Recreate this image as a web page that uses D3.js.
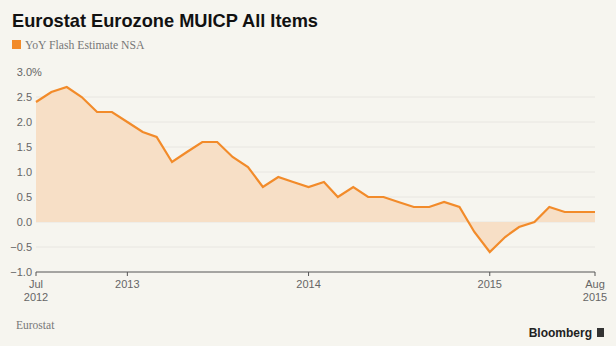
<!DOCTYPE html>
<html>
<head>
<meta charset="utf-8">
<script src="https://cdn.jsdelivr.net/npm/d3@7"></script>
<style>
  html, body { margin: 0; padding: 0; background: #f6f5ef; }
  svg { display: block; }
</style>
</head>
<body>
<svg id="chart" width="616" height="346"></svg>
<script>
// Eurozone MUICP All Items, YoY flash estimate (NSA), monthly Jul 2012 – Aug 2015
const months = [
  "2012-07","2012-08","2012-09","2012-10","2012-11","2012-12",
  "2013-01","2013-02","2013-03","2013-04","2013-05","2013-06",
  "2013-07","2013-08","2013-09","2013-10","2013-11","2013-12",
  "2014-01","2014-02","2014-03","2014-04","2014-05","2014-06",
  "2014-07","2014-08","2014-09","2014-10","2014-11","2014-12",
  "2015-01","2015-02","2015-03","2015-04","2015-05","2015-06",
  "2015-07","2015-08"
];
const yoy = [
  2.4, 2.6, 2.7, 2.5, 2.2, 2.2,
  2.0, 1.8, 1.7, 1.2, 1.4, 1.6,
  1.6, 1.3, 1.1, 0.7, 0.9, 0.8,
  0.7, 0.8, 0.5, 0.7, 0.5, 0.5,
  0.4, 0.3, 0.3, 0.4, 0.3, -0.2,
  -0.6, -0.3, -0.1, 0.0, 0.3, 0.2,
  0.2, 0.2
];
const yTicks = [3.0, 2.5, 2.0, 1.5, 1.0, 0.5, 0.0, -0.5, -1.0];
const xTicks = [
  { date: "2012-07", lines: ["Jul", "2012"] },
  { date: "2013-01", lines: ["2013"] },
  { date: "2014-01", lines: ["2014"] },
  { date: "2015-01", lines: ["2015"] },
  { date: "2015-08", lines: ["Aug", "2015"] }
];

const parse = d3.timeParse("%Y-%m");
const data = months.map((m, i) => ({ date: parse(m), value: yoy[i] }));

const svg = d3.select("#chart");
const orange = "#f28b2a";
const fillCol = "#f7dfc6";
const sans = "'Liberation Sans', Arial, sans-serif";
const serif = "'Liberation Serif', 'DejaVu Serif', serif";

const x = d3.scaleTime()
  .domain([parse("2012-07"), parse("2015-08")])
  .range([36, 595]);
const y = d3.scaleLinear().domain([-1, 3]).range([272, 72]);

// Title and legend
svg.append("text")
  .attr("x", 12).attr("y", 27)
  .attr("font-family", sans).attr("font-weight", "bold")
  .attr("font-size", 18.5).attr("fill", "#111")
  .attr("textLength", 306).attr("lengthAdjust", "spacingAndGlyphs")
  .text("Eurostat Eurozone MUICP All Items");

svg.append("rect")
  .attr("x", 12).attr("y", 40).attr("width", 9).attr("height", 9)
  .attr("fill", orange);
svg.append("text")
  .attr("x", 25).attr("y", 48.5)
  .attr("font-family", serif).attr("font-size", 11.7).attr("fill", "#777")
  .text("YoY Flash Estimate NSA");

// Gridlines
svg.append("g").selectAll("line")
  .data(yTicks.filter(t => t > -1 && t < 3))
  .join("line")
  .attr("x1", 36).attr("x2", 595)
  .attr("y1", d => y(d)).attr("y2", d => y(d))
  .attr("stroke", "#e8e6e1").attr("stroke-width", 1);

// Area between the series and zero
const area = d3.area()
  .x(d => x(d.date))
  .y0(y(0))
  .y1(d => y(d.value));
svg.append("path")
  .datum(data)
  .attr("d", area)
  .attr("fill", fillCol);

// Series line
const line = d3.line()
  .x(d => x(d.date))
  .y(d => y(d.value));
svg.append("path")
  .datum(data)
  .attr("d", line)
  .attr("fill", "none")
  .attr("stroke", orange)
  .attr("stroke-width", 2.2)
  .attr("stroke-linejoin", "miter");

// Y axis labels
const yLab = svg.append("g")
  .attr("font-family", sans).attr("font-size", 11).attr("fill", "#666");
yLab.selectAll("text")
  .data(yTicks)
  .join("text")
  .attr("x", 32)
  .attr("y", d => y(d))
  .attr("dy", "0.36em")
  .attr("text-anchor", "end")
  .text(d => d3.format(".1f")(d));
yLab.append("text")
  .attr("x", 32).attr("y", y(yTicks[0])).attr("dy", "0.36em")
  .text("%");

// X axis
const xAxis = svg.append("g").attr("transform", `translate(0,${y(-1)})`);
xAxis.append("line")
  .attr("x1", 36).attr("x2", 595)
  .attr("stroke", "#555").attr("stroke-width", 1);
const xt = xAxis.selectAll("g.tick")
  .data(xTicks)
  .join("g")
  .attr("transform", d => `translate(${x(parse(d.date))},0)`);
xt.append("line").attr("y1", 0).attr("y2", 4).attr("stroke", "#555");
xt.append("text")
  .attr("font-family", sans).attr("font-size", 11).attr("fill", "#666")
  .attr("text-anchor", "middle")
  .selectAll("tspan")
  .data(d => d.lines)
  .join("tspan")
  .attr("x", 0)
  .attr("y", (d, i) => 15.5 + i * 13)
  .text(d => d);

// Footer
svg.append("text")
  .attr("x", 16).attr("y", 329)
  .attr("font-family", serif).attr("font-size", 11.5).attr("fill", "#777")
  .text("Eurostat");
svg.append("text")
  .attr("x", 592).attr("y", 337)
  .attr("text-anchor", "end")
  .attr("font-family", sans).attr("font-weight", "bold")
  .attr("font-size", 12).attr("fill", "#222")
  .text("Bloomberg");
svg.append("rect")
  .attr("x", 597).attr("y", 328).attr("width", 7).attr("height", 9)
  .attr("fill", "#333");
</script>
</body>
</html>
